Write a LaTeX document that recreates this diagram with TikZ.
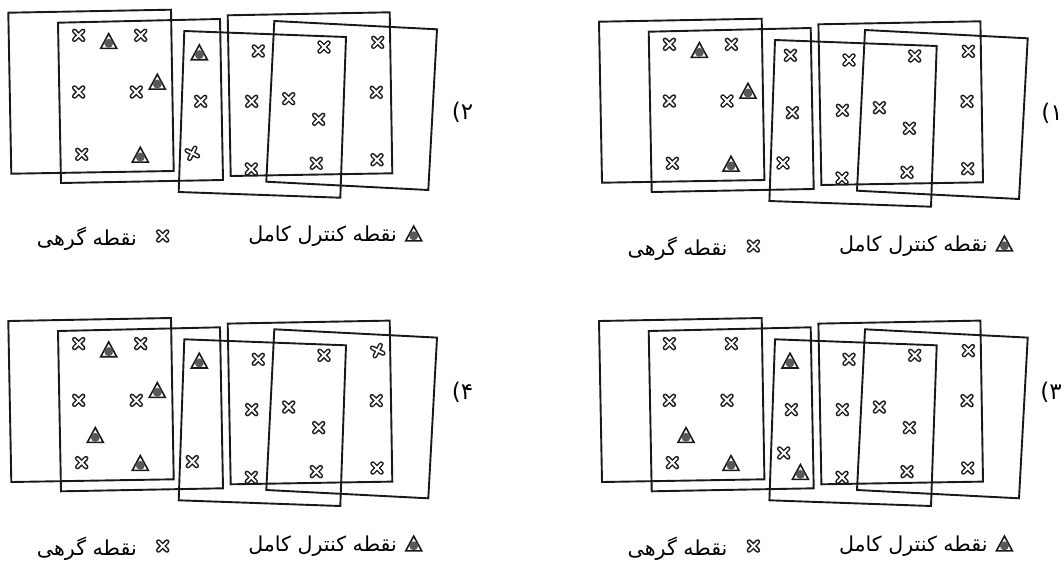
\documentclass[tikz,border=0pt]{standalone}
\usepackage{fontspec}
\TeXXeTstate=1
\newfontfamily\arabicfont[Script=Arabic]{DejaVu Sans}
\tikzset{
  x=1pt,y=-1pt,
  frame/.style={draw=black!90,line width=1.9pt,line join=miter},
  label text/.style={inner sep=0pt,font=\arabicfont\fontsize{20.6}{24}\selectfont},
  digit text/.style={inner sep=0pt,font=\arabicfont\fontsize{23}{26}\selectfont},
  pics/cross/.style={code={
    \draw[black!88,line width=4.9pt,line cap=round] (-4.3,-4.3) -- (4.3,4.3) (-4.3,4.3) -- (4.3,-4.3);
    \draw[white,line width=1.9pt,line cap=round] (-4.3,-4.3) -- (4.3,4.3) (-4.3,4.3) -- (4.3,-4.3);
  }},
  pics/ctrl/.style={code={
    \fill[white,draw=black!90,line width=1.6pt,line join=miter] (-8,7.4) -- (0,-7.4) -- (8,7.4) -- cycle;
    \fill[black!65] (0,2.3) circle (4.5);
  }}
}
% #1 panel id, #2 dx, #3 dy, #4 legend dy, #5 digit x, #6 digit y, #7 digit, #8 marks
\newcommand{\panelset}[8]{%
  \begin{scope}[shift={(#2,#3)}]
    \draw[frame] (8.3,12.7) -- (171,9.7) -- (173.7,171) -- (11.3,173.7) -- cycle;
    \draw[frame] (58,22.7) -- (220,19) -- (223,180) -- (61,183) -- cycle;
    \draw[frame] (184.3,31) -- (346,37) -- (340.3,197.7) -- (178.7,192) -- cycle;
    \draw[frame] (227.7,15.3) -- (389.7,12.3) -- (392.3,173.3) -- (230.7,176) -- cycle;
    \draw[frame] (274.3,21) -- (437,29.3) -- (428.3,190) -- (266.3,181.7) -- cycle;
    \foreach \px/\py in {78.7/35.3,140.7/35.3,78.7/92,136.3/92,81.7/154.3,
      258.3/51,324/47,251.7/101.3,288.7/98.7,376.3/92.3,318.7/119.3,
      316.3/163.3,377/159.7,251.3/169}
      \pic at (\px,\py) {cross};
    #8
  \end{scope}
  \begin{scope}[shift={(#2,#4)}]
    \pic at (413.7,233.5) {ctrl};
    \node[label text,anchor=east] (ctrl#1) at (397,236) {\beginR نقطه کنترل کامل\endR};
    \pic at (162.7,236) {cross};
    \node[label text,anchor=east] (node#1) at (137,239) {\beginR نقطه گرهی\endR};
  \end{scope}
  \node[digit text] (num#1) at (#5,#6) {\beginR #7\endR};
}
\begin{document}
\begin{tikzpicture}
\useasboundingbox (0,0) rectangle (1064,560);
\fill[white] (0,0) rectangle (1064,560);
\panelset{b}{0}{0}{0}{462.5}{112}{۲)}{
  \foreach \px/\py in {200.7/101.3,377.7/42.3} \pic at (\px,\py) {cross};
  \pic[rotate=18] at (192.3,153.3) {cross};
  \foreach \px/\py in {108.7/41,157.3/81.7,140.3/154.7,199.3/52.3} \pic at (\px,\py) {ctrl};
}
\panelset{a}{590.7}{9}{10}{1052}{113}{۱)}{
  \foreach \px/\py in {199.7/46.3,201.7/103.7,192.3/154,377.7/42.3} \pic at (\px,\py) {cross};
  \foreach \px/\py in {108.7/41,157.3/81.7,140.3/154.7} \pic at (\px,\py) {ctrl};
}
\panelset{d}{0}{308.3}{310}{462.5}{392}{۴)}{
  \foreach \px/\py in {192.3/153.3} \pic at (\px,\py) {cross};
  \pic[rotate=18] at (377.7,42.3) {cross};
  \foreach \px/\py in {108.7/41,157.3/81.7,140.3/154.7,199.3/52.3,95.3/126.7} \pic at (\px,\py) {ctrl};
}
\panelset{c}{590.7}{308.3}{310}{1051}{392}{۳)}{
  \foreach \px/\py in {200.7/101.3,193/144.7,377.7/42.3} \pic at (\px,\py) {cross};
  \foreach \px/\py in {140.3/154.7,199.3/52.3,95.3/126.7,209.7/163.7} \pic at (\px,\py) {ctrl};
}
\end{tikzpicture}
\end{document}
